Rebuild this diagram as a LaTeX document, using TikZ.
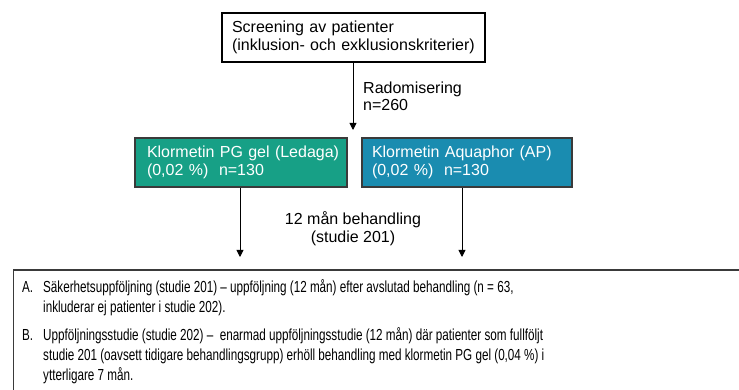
\documentclass[tikz,border=0pt]{standalone}
\usepackage{fontspec}
\setmainfont{Liberation Sans}
\newfontfamily\narrowfont{Liberation Sans}[FakeStretch=0.73]
\usetikzlibrary{arrows.meta}
\definecolor{boxgreen}{HTML}{17A086}
\definecolor{boxblue}{HTML}{1A8CB0}
\definecolor{edgegray}{HTML}{3A3A3A}
\begin{document}
\begin{tikzpicture}[x=1pt,y=-1pt,
  txt/.style={font=\fontsize{16}{18}\selectfont},
  box/.style={rectangle, draw, line width=1.5pt, minimum height=49pt, inner ysep=0pt, align=left, txt},
  arr/.style={-{Triangle[width=7pt,length=7pt]}, line width=0.9pt},
  lbl/.style={inner sep=0pt, font=\fontsize{16}{17}\selectfont}]
\useasboundingbox (0,0) rectangle (739,390);
\clip (0,0) rectangle (739,390);

\node[box, draw=black, text width=243pt, inner xsep=10pt] (top) at (353.5,37.5)
  {\mbox{Screening av patienter}\\\mbox{(inklusion- och exklusionskriterier)}};

\node[box, draw=edgegray, fill=boxgreen, text=white, text width=188pt, inner xsep=12pt] (green) at (241,162.5)
  {\mbox{Klormetin PG gel (Ledaga)}\\\mbox{(0,02 \%)\ \ n=130}};
\node[box, draw=edgegray, fill=boxblue, text=white, text width=190pt, inner xsep=10pt] (blue) at (467,162.5)
  {\mbox{Klormetin Aquaphor (AP)}\\\mbox{(0,02 \%)\ \ n=130}};

\coordinate (split) at (353,130);
\draw[arr] (top.south -| split) -- (split);
\node[lbl, anchor=north west, align=left] (rand) at (363,81.5) {Radomisering\\n=260};

\node[rectangle, draw=edgegray, line width=1.5pt, anchor=north west, minimum width=760pt, minimum height=140pt] (bottom) at (12.7,269) {};

\coordinate (gend) at (240,257);
\coordinate (bend) at (462,257);
\draw[arr] (green.south -| gend) -- (gend);
\draw[arr] (blue.south -| bend) -- (bend);
\node[lbl, anchor=north, align=center, font=\fontsize{16}{18}\selectfont] (treat) at (353,211) {12 mån behandling\\(studie 201)};

\node[inner sep=0pt, anchor=north west, font=\narrowfont\fontsize{16}{20}\selectfont] (btext) at (22,278) {%
\begin{tabular}{@{}p{21pt}@{}l@{}}
A. & Säkerhetsuppföljning (studie 201) – uppföljning (12 mån) efter avslutad behandling (n = 63,\\
 & inkluderar ej patienter i studie 202).\\[8pt]
B. & Uppföljningsstudie (studie 202) –\ \ enarmad uppföljningsstudie (12 mån) där patienter som fullföljt\\
 & studie 201 (oavsett tidigare behandlingsgrupp) erhöll behandling med klormetin PG gel (0,04 \%) i\\
 & ytterligare 7 mån.
\end{tabular}};
\end{tikzpicture}
\end{document}
